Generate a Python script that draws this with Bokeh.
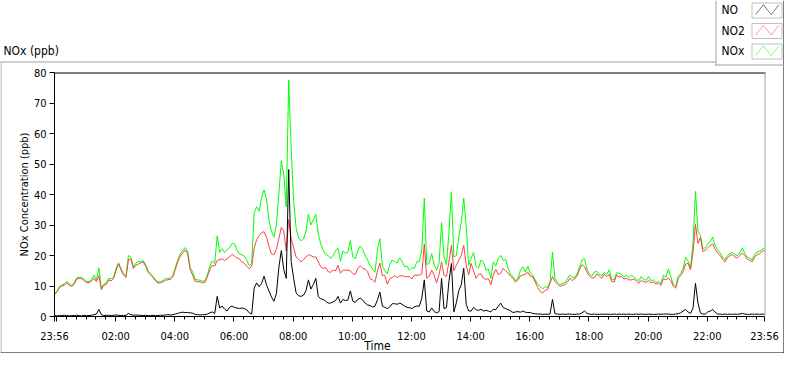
import math
from bokeh.plotting import figure
from bokeh.models import (Range1d, FixedTicker, Label, BoxAnnotation,
                          PolyAnnotation, ColumnDataSource, LinearAxis)
from bokeh.embed import file_html
from bokeh.resources import INLINE

# ---------------- data (5-minute samples from 23:56 to 23:56) ----------------
minutes = list(range(0, 1441, 5))

no2_ppb = [
    7.2, 8.0, 9.5, 10.0, 10.2, 11.0, 10.2, 9.9, 10.6, 12.3, 12.5, 12.4,
    11.8, 11.1, 11.1, 11.6, 12.5, 11.4, 13.4, 8.8, 10.2, 10.5, 12.0, 11.7,
    12.5, 15.2, 17.2, 15.2, 13.6, 12.8, 18.6, 18.8, 15.7, 16.8, 17.2, 17.6,
    17.9, 16.5, 14.4, 13.6, 12.8, 11.6, 11.0, 11.0, 11.4, 11.9, 12.0, 12.2,
    13.0, 15.4, 18.0, 19.8, 20.8, 21.8, 20.6, 15.5, 13.6, 11.6, 11.4, 11.4,
    11.0, 11.2, 13.0, 15.5, 16.8, 16.5, 18.4, 18.6, 18.9, 18.4, 18.9, 19.5,
    20.4, 19.8, 19.2, 18.9, 17.9, 17.4, 16.5, 15.6, 16.5, 22.5, 25.2, 26.5,
    27.5, 27.8, 26.0, 23.0, 20.5, 20.2, 22.0, 25.5, 29.2, 28.0, 21.5, 31.8,
    25.5, 22.5, 19.5, 18.8, 17.9, 18.6, 19.5, 20.3, 20.0, 19.5, 19.5, 17.9,
    16.3, 15.8, 16.0, 14.7, 14.5, 15.2, 15.0, 16.8, 14.2, 15.2, 15.2, 15.2,
    15.0, 14.1, 13.8, 15.8, 16.6, 15.8, 15.5, 14.7, 12.4, 12.0, 11.2, 15.0,
    17.5, 13.5, 13.4, 10.6, 12.4, 12.8, 13.4, 12.8, 13.2, 13.4, 13.1, 13.0,
    13.1, 12.3, 13.6, 13.5, 13.6, 14.0, 23.8, 12.5, 13.2, 15.2, 13.5, 11.0,
    13.8, 17.9, 13.6, 13.1, 18.0, 23.3, 15.0, 16.8, 18.5, 20.0, 23.3, 16.8,
    13.6, 17.4, 15.0, 12.5, 13.8, 14.0, 12.5, 12.2, 12.4, 10.4, 13.6, 15.5,
    13.8, 14.2, 15.8, 15.0, 14.2, 13.2, 12.5, 11.3, 12.0, 13.3, 13.6, 13.8,
    14.5, 13.2, 13.0, 11.3, 9.5, 8.2, 7.7, 8.6, 8.8, 10.9, 13.1, 11.5,
    10.6, 9.9, 10.2, 10.4, 11.2, 12.5, 11.8, 12.3, 13.3, 15.5, 17.0, 16.3,
    14.5, 13.2, 12.6, 12.7, 14.0, 13.3, 12.5, 13.8, 13.1, 13.8, 11.5, 11.3,
    13.6, 13.0, 13.1, 12.3, 12.5, 12.0, 12.0, 12.3, 11.6, 10.9, 11.8, 11.4,
    11.2, 11.8, 11.0, 11.3, 10.6, 10.9, 10.2, 12.4, 12.0, 12.6, 11.8, 9.9,
    9.3, 12.5, 13.4, 14.7, 17.2, 17.4, 15.3, 21.0, 30.2, 24.0, 25.9, 21.3,
    21.7, 22.5, 23.3, 23.8, 22.0, 20.8, 20.0, 18.8, 17.9, 19.3, 20.0, 20.3,
    19.5, 19.2, 20.0, 20.8, 20.0, 18.8, 18.4, 17.9, 19.5, 20.2, 20.6, 21.3,
    21.7,
]

nox_ppb = [
    7.5, 8.3, 9.8, 10.4, 10.6, 11.6, 10.5, 10.2, 11.0, 12.6, 12.9, 12.8,
    12.2, 11.4, 11.5, 12.0, 13.6, 11.9, 16.0, 9.2, 10.6, 11.0, 12.5, 12.4,
    13.0, 15.8, 17.6, 15.7, 14.0, 13.3, 20.0, 19.4, 16.2, 17.5, 18.0, 18.0,
    18.3, 17.0, 14.9, 14.0, 13.2, 12.0, 11.3, 11.4, 11.8, 12.4, 12.4, 12.6,
    13.5, 16.0, 18.5, 20.5, 21.6, 22.6, 21.5, 16.0, 14.8, 12.2, 12.0, 11.9,
    11.6, 11.6, 13.6, 16.5, 18.2, 17.4, 26.5, 21.0, 22.2, 21.0, 21.8, 22.5,
    24.0, 23.8, 21.8, 20.5, 20.2, 19.8, 18.4, 16.6, 17.4, 34.0, 36.0, 34.5,
    39.0, 41.5, 38.5, 31.5, 28.0, 26.0, 30.0, 40.0, 51.0, 46.5, 36.0, 77.5,
    55.0, 38.0, 29.0, 25.8, 24.8, 25.5, 28.0, 33.5, 30.0, 31.8, 33.5, 27.0,
    23.8, 21.7, 20.3, 20.0, 19.0, 20.0, 21.5, 22.5, 18.0, 21.5, 20.8, 21.0,
    24.9, 19.5, 19.0, 21.5, 23.0, 22.0, 20.0, 18.5, 16.8, 15.5, 14.5, 22.0,
    25.5, 16.5, 15.0, 14.0, 17.0, 18.5, 18.0, 17.5, 19.2, 18.0, 16.3, 16.5,
    15.2, 16.0, 15.8, 18.0, 18.0, 22.0, 38.8, 17.0, 17.5, 20.6, 17.0, 15.2,
    17.5, 30.8, 19.5, 17.0, 27.5, 40.9, 19.5, 20.0, 26.0, 30.8, 38.8, 29.7,
    16.8, 19.0, 21.0, 16.5, 15.8, 18.5, 17.9, 15.2, 15.6, 12.5, 17.9, 16.5,
    19.0, 20.0, 18.4, 18.8, 15.8, 13.8, 13.1, 11.8, 12.5, 15.2, 16.3, 14.5,
    16.5, 14.2, 13.6, 12.0, 10.6, 9.8, 9.0, 9.8, 9.5, 11.5, 21.1, 12.5,
    11.2, 10.4, 10.9, 11.0, 12.3, 13.6, 12.8, 12.8, 14.0, 16.2, 18.5, 19.0,
    15.5, 14.0, 13.3, 14.6, 14.8, 14.0, 13.3, 14.5, 13.8, 15.3, 12.2, 12.0,
    14.3, 14.2, 13.8, 13.0, 13.6, 12.7, 13.6, 13.0, 12.3, 11.6, 13.1, 12.1,
    11.9, 13.1, 11.7, 12.0, 11.2, 11.5, 10.8, 13.6, 12.8, 15.6, 13.0, 10.6,
    9.9, 13.2, 14.2, 15.8, 19.4, 18.2, 16.0, 24.0, 41.0, 28.0, 26.5, 22.3,
    22.5, 23.9, 24.5, 26.0, 23.2, 21.8, 20.8, 19.5, 18.6, 20.0, 20.7, 21.0,
    20.2, 20.0, 20.8, 22.5, 20.7, 19.5, 19.1, 18.6, 20.2, 21.2, 21.4, 22.0,
    22.5,
]

no_ppb = [
    0.3, 0.2, 0.3, 0.3, 0.4, 0.3, 0.2, 0.3, 0.3, 0.4, 0.3, 0.2,
    0.4, 0.3, 0.3, 0.4, 0.6, 0.8, 2.3, 0.6, 0.3, 0.4, 0.4, 0.3,
    0.4, 0.5, 0.4, 0.3, 0.3, 0.4, 1.0, 0.6, 0.4, 0.5, 0.4, 0.4,
    0.3, 0.4, 0.3, 0.3, 0.4, 0.3, 0.3, 0.4, 0.4, 0.5, 0.6, 0.5,
    0.6, 0.8, 1.0, 1.3, 1.4, 1.3, 1.3, 1.2, 1.1, 0.7, 0.6, 0.5,
    0.6, 0.6, 0.8, 1.2, 1.5, 1.0, 6.6, 2.8, 3.4, 2.4, 1.8, 3.0,
    3.4, 3.0, 2.8, 2.6, 2.8, 2.6, 2.2, 1.2, 0.8, 9.3, 11.0, 9.8,
    10.8, 13.2, 10.4, 8.4, 6.4, 5.0, 7.5, 16.0, 21.6, 15.4, 12.5, 48.2,
    18.0, 12.5, 7.7, 6.8, 6.6, 7.0, 8.4, 12.0, 9.0, 10.5, 12.5, 6.5,
    5.8, 5.6, 5.0, 4.4, 4.4, 4.8, 5.2, 6.6, 4.4, 5.6, 5.2, 5.4,
    8.4, 5.0, 4.6, 5.6, 6.0, 5.4, 4.4, 3.8, 3.6, 3.1, 3.4, 5.5,
    8.0, 3.4, 3.0, 2.6, 3.1, 4.2, 4.2, 4.0, 4.4, 4.0, 3.4, 3.0,
    2.9, 2.6, 3.2, 3.4, 3.4, 6.0, 12.0, 1.8, 1.5, 2.8, 1.6, 1.2,
    1.6, 12.5, 2.6, 2.9, 11.5, 17.4, 1.5, 4.5, 8.5, 10.4, 15.8, 4.0,
    1.8, 1.8, 3.0, 2.2, 2.0, 2.4, 1.8, 2.0, 1.8, 1.5, 2.4, 2.2,
    3.4, 4.4, 2.9, 2.6, 2.2, 1.9, 1.3, 1.5, 1.6, 1.4, 1.8, 1.4,
    1.3, 1.3, 1.0, 0.9, 0.8, 0.8, 0.7, 0.8, 0.7, 0.8, 5.6, 0.9,
    0.8, 0.7, 0.8, 0.7, 0.8, 0.8, 0.7, 0.7, 0.8, 0.8, 1.2, 1.8,
    1.0, 0.8, 0.7, 0.8, 0.7, 0.7, 0.8, 0.7, 0.8, 0.7, 0.7, 0.8,
    0.7, 0.8, 0.7, 0.8, 0.7, 0.8, 0.7, 0.7, 0.8, 0.7, 0.8, 0.7,
    0.7, 0.8, 0.7, 0.7, 0.7, 0.8, 0.7, 0.8, 0.8, 0.8, 0.7, 0.7,
    0.8, 0.9, 1.2, 1.8, 2.3, 1.5, 1.0, 2.8, 10.9, 4.5, 1.2, 0.8,
    0.8, 1.5, 1.8, 2.3, 1.4, 0.8, 0.8, 0.7, 0.8, 0.7, 0.8, 0.7,
    0.8, 0.7, 0.8, 1.0, 0.8, 0.7, 0.7, 0.8, 0.7, 0.8, 0.7, 0.8,
    0.8,
]

x_tick_minutes = [0, 4, 124, 244, 364, 484, 604, 724, 844, 964, 1084, 1204, 1324, 1440]
x_tick_labels = ["23:56", "", "02:00", "04:00", "06:00", "08:00", "10:00", "12:00",
                 "14:00", "16:00", "18:00", "20:00", "22:00", "23:56"]
y_ticks = [0, 10, 20, 30, 40, 50, 60, 70, 80]

series_names = ["NO", "NO2", "NOx"]
series_colors = ["#000000", "#ff4040", "#00ff00"]

FONT = "DejaVu Sans Condensed"
FS = "11px"      # tick labels, axis title
FS_T = "12px"    # panel title, legend, x title
TXT = "#000000"

# ---------------- geometry (canvas pixels) ----------------
W, H = 784, 353
FL, FR, FT, FB = 54, 764, 72, 316          # plot area edges
T0, T1, V0, V1 = 0, 1440, 0, 80
sx = (FR - FL) / (T1 - T0)
sy = (FB - FT) / (V1 - V0)

p = figure(width=W, height=H, output_backend="svg", toolbar_location=None,
           x_range=Range1d(T0 - FL / sx, T1 + (W - FR) / sx),
           y_range=Range1d(V0 - (H - FB) / sy, V1 + FT / sy),
           x_axis_location=None, y_axis_location=None, min_border=0)
p.outline_line_color = None
p.xgrid.visible = False
p.ygrid.visible = False
p.background_fill_color = "white"
p.border_fill_color = "white"

src = ColumnDataSource(dict(t=minutes, no=no_ppb, no2=no2_ppb, nox=nox_ppb))
p.line("t", "nox", source=src, line_color=series_colors[2], line_width=1)
p.line("t", "no2", source=src, line_color=series_colors[1], line_width=1)
p.line("t", "no", source=src, line_color=series_colors[0], line_width=1)

# x axis
minor = [m for m in range(4, 1440, 20) if m not in x_tick_minutes]
xa = LinearAxis(fixed_location=V0, bounds=(T0, T1))
xa.ticker = FixedTicker(ticks=x_tick_minutes, minor_ticks=minor)
xa.major_label_overrides = {m: lab for m, lab in zip(x_tick_minutes, x_tick_labels)}
xa.major_tick_out = 5
xa.major_tick_in = 0
xa.minor_tick_out = 3
xa.minor_tick_in = 0
xa.major_label_standoff = 8
xa.axis_line_color = "black"
xa.major_tick_line_color = "black"
xa.minor_tick_line_color = "black"
xa.major_label_text_font = FONT
xa.major_label_text_font_size = FS
xa.major_label_text_color = TXT
p.add_layout(xa, "below")

# y axis
ya = LinearAxis(fixed_location=T0, bounds=(V0, V1))
ya.ticker = FixedTicker(ticks=y_ticks)
ya.minor_tick_line_color = None
ya.major_tick_out = 5
ya.major_tick_in = 0
ya.major_label_standoff = 3
ya.axis_line_color = "black"
ya.major_tick_line_color = "black"
ya.major_label_text_font = FONT
ya.major_label_text_font_size = FS
ya.major_label_text_color = TXT
p.add_layout(ya, "left")


def canvas_rect(x0, x1, y0, y1, color):
    p.add_layout(BoxAnnotation(left=x0, right=x1, top=y0, bottom=y1,
                               left_units="canvas", right_units="canvas",
                               top_units="canvas", bottom_units="canvas",
                               fill_color=color, fill_alpha=1.0,
                               line_color=None, level="overlay"))


def canvas_text(x, y, text, size, align="left", angle=0.0):
    p.add_layout(Label(x=x, y=y, x_units="canvas", y_units="canvas", text=text,
                       text_font=FONT, text_font_size=size, text_color=TXT,
                       text_baseline="middle", text_align=align, angle=angle))


# plot frame: top (black) and right (gray)
canvas_rect(FL, FR + 1, FT, FT + 1, "#000000")
canvas_rect(FR, FR + 1, FT, FB, "#a0a0a0")

# outer panel frame
canvas_rect(0, 715, 61, 62, "#a0a0a0")      # top (gray)
canvas_rect(0, 1, 61, H, "#a0a0a0")         # left (gray)
canvas_rect(0, W, H - 1, H, "#000000")      # bottom (dark)
canvas_rect(W - 1, W, 0, H, "#000000")      # right (dark)
# legend box
canvas_rect(715, 716, 0, 65, "#a0a0a0")
canvas_rect(715, W, 64, 65, "#a0a0a0")

# legend entries
for i, (name, col) in enumerate(zip(series_names, series_colors)):
    top = 2 + i * 20.5
    bot = top + 15
    canvas_text(721, (top + bot) / 2, name, FS_T)
    xl, xr = 751.5, 781.5
    w = xr - xl
    h = bot - top
    zx = [xl + 0.12 * w, xl + 0.38 * w, xl + 0.64 * w, xl + 0.9 * w]
    zy = [top + 0.8 * h, top + 0.15 * h, top + 0.8 * h, top + 0.15 * h]
    p.add_layout(PolyAnnotation(xs=zx + [zx[2], zx[1]], ys=zy + [zy[2], zy[1]],
                                xs_units="canvas", ys_units="canvas",
                                fill_alpha=0, line_color=col, line_width=1))
    p.add_layout(BoxAnnotation(left=xl, right=xr, top=top + 0.5, bottom=bot + 0.5,
                               left_units="canvas", right_units="canvas",
                               top_units="canvas", bottom_units="canvas",
                               fill_alpha=0, line_color="#303030", line_width=1,
                               level="overlay"))

# titles
canvas_text(3, 50, "NOx (ppb)", FS_T)
canvas_text(377, 345, "Time", FS_T, align="center")
canvas_text(24, (FT + FB) / 2, "NOx Concentration (ppb)", FS, align="center", angle=math.pi / 2)

open("out.html", "w").write(file_html(p, INLINE))
